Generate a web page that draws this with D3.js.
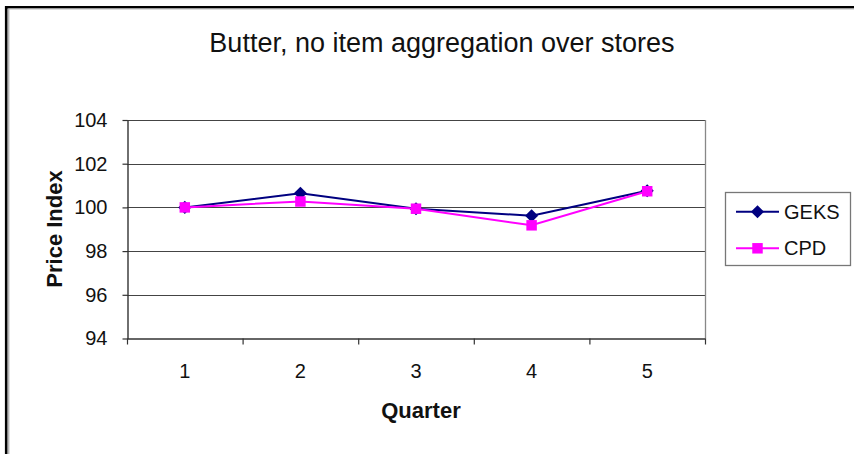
<!DOCTYPE html>
<html>
<head>
<meta charset="utf-8">
<script src="https://cdn.jsdelivr.net/npm/d3@7"></script>
<style>
  html, body { margin: 0; padding: 0; background: #fff; }
  svg { display: block; font-family: "Liberation Sans", Arial, sans-serif; }
</style>
</head>
<body>
<svg id="chart" width="854" height="454"></svg>
<script>
// Quarterly price index for butter, two index methods
const quarters = [1, 2, 3, 4, 5];
const geks = [100, 100.65, 99.94, 99.62, 100.76];
const cpd  = [100, 100.27, 99.94, 99.18, 100.74];
const yTicks = [94, 96, 98, 100, 102, 104];
const seriesNames = ["GEKS", "CPD"];

const svg = d3.select("#chart");
const W = 854, H = 454;

svg.append("rect").attr("width", W).attr("height", H).attr("fill", "#fff");

// outer frame (left and top edges)
svg.append("line").attr("x1", 6.2).attr("x2", 6.2).attr("y1", 6).attr("y2", H)
  .attr("stroke", "#000").attr("stroke-width", 2.6);
svg.append("line").attr("x1", 5).attr("x2", W).attr("y1", 7.2).attr("y2", 7.2)
  .attr("stroke", "#000").attr("stroke-width", 2.4);
svg.append("line").attr("x1", 8.8).attr("x2", 8.8).attr("y1", 9).attr("y2", H)
  .attr("stroke", "#999").attr("stroke-width", 1);
svg.append("line").attr("x1", 8.5).attr("x2", W).attr("y1", 9).attr("y2", 9)
  .attr("stroke", "#bbb").attr("stroke-width", 1);

const plot = { left: 127, right: 705, top: 120, bottom: 338.5 };

const x = d3.scaleBand().domain(quarters).range([plot.left, plot.right]).padding(0);
const y = d3.scaleLinear().domain([94, 104]).range([plot.bottom, plot.top]);

// horizontal gridlines
svg.append("g")
  .selectAll("line")
  .data(yTicks.filter(t => t > 94))
  .join("line")
  .attr("x1", plot.left).attr("x2", plot.right)
  .attr("y1", d => Math.round(y(d)) + 0.5).attr("y2", d => Math.round(y(d)) + 0.5)
  .attr("stroke", "#444").attr("stroke-width", 1.2);

// right edge of the plot area
svg.append("line")
  .attr("x1", plot.right + 0.5).attr("x2", plot.right + 0.5)
  .attr("y1", plot.top).attr("y2", plot.bottom)
  .attr("stroke", "#888").attr("stroke-width", 1.3);

// y axis
const yAxis = svg.append("g")
  .attr("transform", `translate(${plot.left + 0.5},0)`)
  .call(d3.axisLeft(y).tickValues(yTicks).tickSize(5).tickPadding(15).tickSizeOuter(0));
yAxis.select(".domain").attr("stroke", "#333").attr("stroke-width", 1.4);
yAxis.selectAll(".tick line").attr("stroke", "#333").attr("stroke-width", 1.2);
yAxis.selectAll(".tick text")
  .attr("font-size", 20).attr("fill", "#111")
  .attr("font-family", "Liberation Sans, Arial, sans-serif");

// x axis with ticks on category boundaries
const xAxis = svg.append("g")
  .attr("transform", `translate(0,${plot.bottom})`)
  .call(d3.axisBottom(x).tickSize(0).tickPadding(25));
xAxis.select(".domain").attr("stroke", "#333").attr("stroke-width", 1.4);
xAxis.selectAll(".tick text")
  .attr("font-size", 20).attr("fill", "#111")
  .attr("font-family", "Liberation Sans, Arial, sans-serif");
const bounds = quarters.map(q => x(q)).concat([x(quarters[quarters.length - 1]) + x.bandwidth()]);
xAxis.selectAll(".bound")
  .data(bounds)
  .join("line")
  .attr("class", "bound")
  .attr("x1", d => d + 0.5).attr("x2", d => d + 0.5)
  .attr("y1", 0).attr("y2", 6)
  .attr("stroke", "#333").attr("stroke-width", 1.2);

// series lines and markers
const cx = q => x(q) + x.bandwidth() / 2;
const line = d3.line().x(d => cx(d.q)).y(d => y(d.v));
const series = [
  { name: seriesNames[0], values: geks, color: "#000080", symbol: d3.symbolDiamond2, size: 110 },
  { name: seriesNames[1], values: cpd,  color: "#FF00FF", symbol: d3.symbolSquare2, size: 140 }
];

series.forEach(s => {
  const pts = quarters.map((q, i) => ({ q, v: s.values[i] }));
  svg.append("path")
    .datum(pts)
    .attr("d", line)
    .attr("fill", "none")
    .attr("stroke", s.color)
    .attr("stroke-width", 2);
  svg.append("g")
    .selectAll("path")
    .data(pts)
    .join("path")
    .attr("transform", d => `translate(${cx(d.q)},${y(d.v)})`)
    .attr("d", d3.symbol().type(s.symbol).size(s.size))
    .attr("fill", s.color);
});

// title and axis titles
svg.append("text")
  .attr("x", 442).attr("y", 52)
  .attr("text-anchor", "middle")
  .attr("font-size", 27).attr("fill", "#111")
  .text("Butter, no item aggregation over stores");

svg.append("text")
  .attr("transform", "translate(62,229) rotate(-90)")
  .attr("text-anchor", "middle")
  .attr("font-size", 22).attr("font-weight", "bold").attr("fill", "#111")
  .text("Price Index");

svg.append("text")
  .attr("x", 421).attr("y", 418)
  .attr("text-anchor", "middle")
  .attr("font-size", 22).attr("font-weight", "bold").attr("fill", "#111")
  .text("Quarter");

// legend
const legend = svg.append("g");
legend.append("rect")
  .attr("x", 725.5).attr("y", 192.5).attr("width", 125).attr("height", 73)
  .attr("fill", "#fff").attr("stroke", "#777").attr("stroke-width", 1.3);
const legendY = [211.7, 248.3];
series.forEach((s, i) => {
  const g = legend.append("g").attr("transform", `translate(0,${legendY[i]})`);
  g.append("line").attr("x1", 736).attr("x2", 779).attr("y1", 0).attr("y2", 0)
    .attr("stroke", s.color).attr("stroke-width", 2);
  g.append("path").attr("transform", "translate(757.5,0)")
    .attr("d", d3.symbol().type(s.symbol).size(s.size)).attr("fill", s.color);
  g.append("text").attr("x", 784).attr("y", 7)
    .attr("font-size", 20).attr("fill", "#111")
    .text(s.name);
});
</script>
</body>
</html>
